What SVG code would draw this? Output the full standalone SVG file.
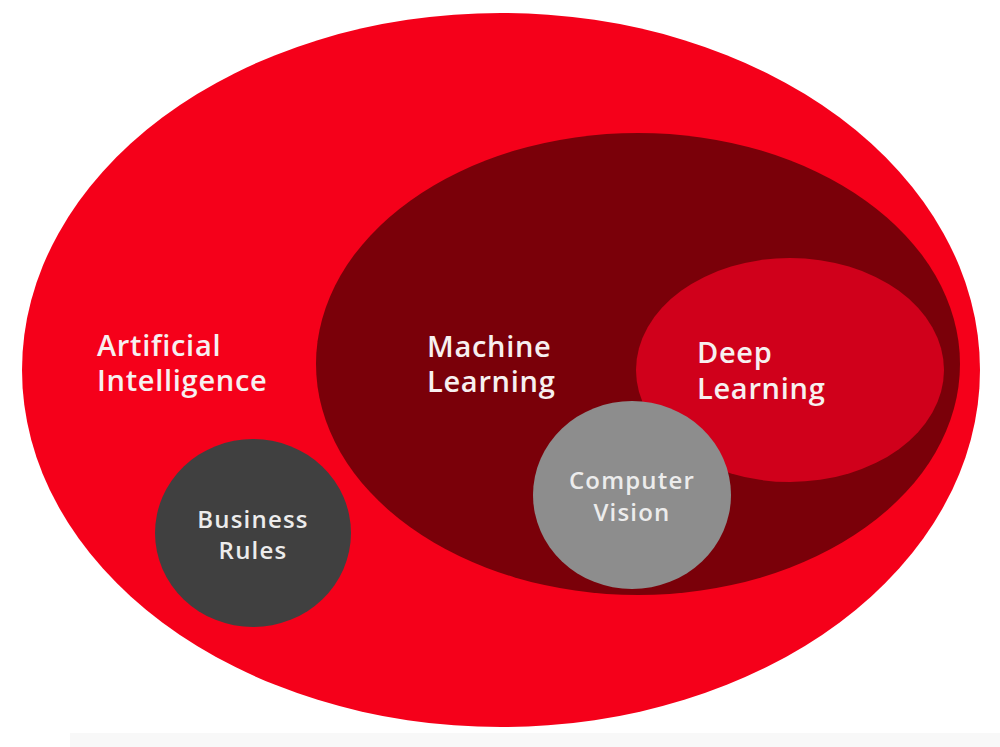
<svg xmlns="http://www.w3.org/2000/svg" width="1000" height="747" viewBox="0 0 1000 747">
<style>
.big{font-family:"Open Sans","Liberation Sans",sans-serif;font-size:29px;font-weight:600;fill:#f7f0f0;letter-spacing:0.7px}
.small{font-family:"Open Sans","Liberation Sans",sans-serif;font-size:24px;font-weight:600;fill:#ececec;text-anchor:middle;letter-spacing:1.2px}
</style>
<rect width="1000" height="747" fill="#ffffff"/>
<rect x="70" y="733" width="930" height="14" fill="#f8f8f8"/>
<g id="ai">
<ellipse cx="501" cy="370" rx="479" ry="357" fill="#f5001a"/>
<text class="big" x="97" y="356">Artificial</text>
<text class="big" x="97" y="391">Intelligence</text>
</g>
<g id="ml">
<ellipse cx="638" cy="364" rx="322" ry="231" fill="#7a0009"/>
<text class="big" x="427" y="357">Machine</text>
<text class="big" x="427" y="392">Learning</text>
</g>
<g id="dl">
<ellipse cx="790" cy="370" rx="154" ry="112" fill="#d0001b"/>
<text class="big" x="697" y="363">Deep</text>
<text class="big" x="697" y="399">Learning</text>
</g>
<g id="cv">
<ellipse cx="632" cy="495" rx="99" ry="94" fill="#8d8d8d"/>
<text class="small" x="632" y="489">Computer</text>
<text class="small" x="632" y="521">Vision</text>
</g>
<g id="br">
<ellipse cx="253" cy="533" rx="98" ry="94" fill="#404040"/>
<text class="small" x="253" y="528">Business</text>
<text class="small" x="253" y="559">Rules</text>
</g>
<g id="connectors"></g>
</svg>
